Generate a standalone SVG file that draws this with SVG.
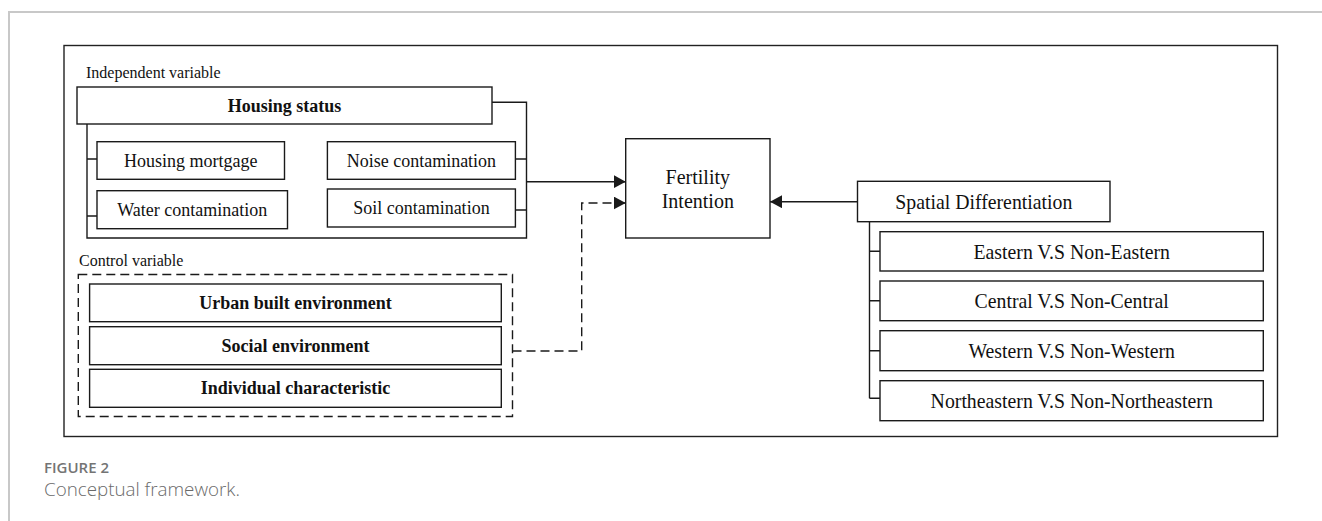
<svg xmlns="http://www.w3.org/2000/svg" width="1322" height="521" viewBox="0 0 1322 521">
<style>
.box{fill:#fff;stroke:#1a1a1a;stroke-width:1.4}
.ln{fill:none;stroke:#1a1a1a;stroke-width:1.4}
.dash{fill:none;stroke:#1a1a1a;stroke-width:1.4;stroke-dasharray:9,5}
.t{font-family:"Liberation Serif","Times New Roman",serif;fill:#111;text-anchor:middle}
.s18{font-size:18px}
.s20{font-size:20px}
.s22{font-size:22px}
.b{font-weight:bold}
.lab{font-family:"Liberation Serif","Times New Roman",serif;font-size:16px;fill:#111}
.cap{font-family:"Open Sans","Noto Sans",sans-serif}
</style>
<defs>
<marker id="arr" markerUnits="userSpaceOnUse" viewBox="0 0 12 13" refX="12" refY="6.5" markerWidth="12" markerHeight="13" orient="auto">
<path d="M0,0 L12,6.5 L0,13 z" fill="#1a1a1a"/>
</marker>
</defs>
<rect width="1322" height="521" fill="#fff"/>
<path d="M9,521 V12 H1322" fill="none" stroke="#c8c8c8" stroke-width="2"/>
<rect id="frame" x="64" y="45.5" width="1213.5" height="391" fill="none" stroke="#222" stroke-width="1.4"/>

<g id="independent">
<text class="lab" x="86" y="78">Independent variable</text>
<g id="housing-status">
<rect class="box" x="77" y="87" width="415" height="37"/>
<text class="t s18 b" x="284.5" y="111.5">Housing status</text>
</g>
<g id="housing-mortgage">
<rect class="box" x="97" y="141.7" width="187.5" height="37.6"/>
<text class="t s18" x="190.7" y="166.5">Housing mortgage</text>
</g>
<g id="water-contamination">
<rect class="box" x="97" y="190.7" width="190.5" height="38"/>
<text class="t s18" x="192.2" y="215.7">Water contamination</text>
</g>
<g id="noise-contamination">
<rect class="box" x="327.4" y="141.7" width="188" height="37.6"/>
<text class="t s18" x="421.4" y="166.5">Noise contamination</text>
</g>
<g id="soil-contamination">
<rect class="box" x="327.4" y="189" width="188" height="38"/>
<text class="t s18" x="421.4" y="214">Soil contamination</text>
</g>
</g>

<g id="control">
<text class="lab" x="79" y="266">Control variable</text>
<rect class="dash" x="78.3" y="274.5" width="434.2" height="142"/>
<g id="urban">
<rect class="box" x="89.6" y="284" width="411.7" height="37.7"/>
<text class="t s18 b" x="295.5" y="308.8">Urban built environment</text>
</g>
<g id="social">
<rect class="box" x="89.6" y="326.7" width="411.7" height="38"/>
<text class="t s18 b" x="295.5" y="351.7">Social environment</text>
</g>
<g id="individual">
<rect class="box" x="89.6" y="369.3" width="411.7" height="38"/>
<text class="t s18 b" x="295.5" y="394.3">Individual characteristic</text>
</g>
</g>

<g id="fertility">
<rect class="box" x="625.7" y="138.7" width="144.3" height="99.3"/>
<text class="t s20" x="697.8" y="183.5">Fertility</text>
<text class="t s20" x="697.8" y="207.5">Intention</text>
</g>

<g id="spatial">
<rect class="box" x="857.5" y="181.3" width="252.5" height="40.4"/>
<text class="t s22" transform="matrix(0.9 0 0 1 983.8 0)" x="0" y="208.8">Spatial Differentiation</text>
</g>
<g id="eastern">
<rect class="box" x="880" y="231.7" width="383.3" height="39.3"/>
<text class="t s22" transform="matrix(0.9 0 0 1 1071.7 0)" x="0" y="259">Eastern V.S Non-Eastern</text>
</g>
<g id="central">
<rect class="box" x="880" y="281" width="383.3" height="39.7"/>
<text class="t s22" transform="matrix(0.9 0 0 1 1071.7 0)" x="0" y="308.5">Central V.S Non-Central</text>
</g>
<g id="western">
<rect class="box" x="880" y="330.7" width="383.3" height="40"/>
<text class="t s22" transform="matrix(0.9 0 0 1 1071.7 0)" x="0" y="358.4">Western V.S Non-Western</text>
</g>
<g id="northeastern">
<rect class="box" x="880" y="380.7" width="383.3" height="40"/>
<text class="t s22" transform="matrix(0.9 0 0 1 1071.7 0)" x="0" y="408.4">Northeastern V.S Non-Northeastern</text>
</g>

<g id="connectors">
<path class="ln" d="M492,102.3 H526.5 V238 H87 V124"/>
<path class="ln" d="M87,159 H97 M87,216 H97 M515.4,159 H526.5 M515.4,210 H526.5"/>
<path class="ln" d="M869.5,221.7 V398.3 M869.5,251.3 H880 M869.5,300.8 H880 M869.5,350.7 H880 M869.5,398.3 H880"/>
<path class="ln" d="M526.5,181.7 H625.7" marker-end="url(#arr)"/>
<path class="dash" d="M512.5,351 H581.7 V203 H625.7" marker-end="url(#arr)"/>
<path class="ln" d="M857.5,201.7 H770" marker-end="url(#arr)"/>
</g>

<text class="cap" x="44" y="472.5" font-size="15" font-weight="600" fill="#747474">FIGURE 2</text>
<text class="cap" x="44" y="496" font-size="18.8" font-weight="300" fill="#6a6a6a">Conceptual framework.</text>
</svg>
